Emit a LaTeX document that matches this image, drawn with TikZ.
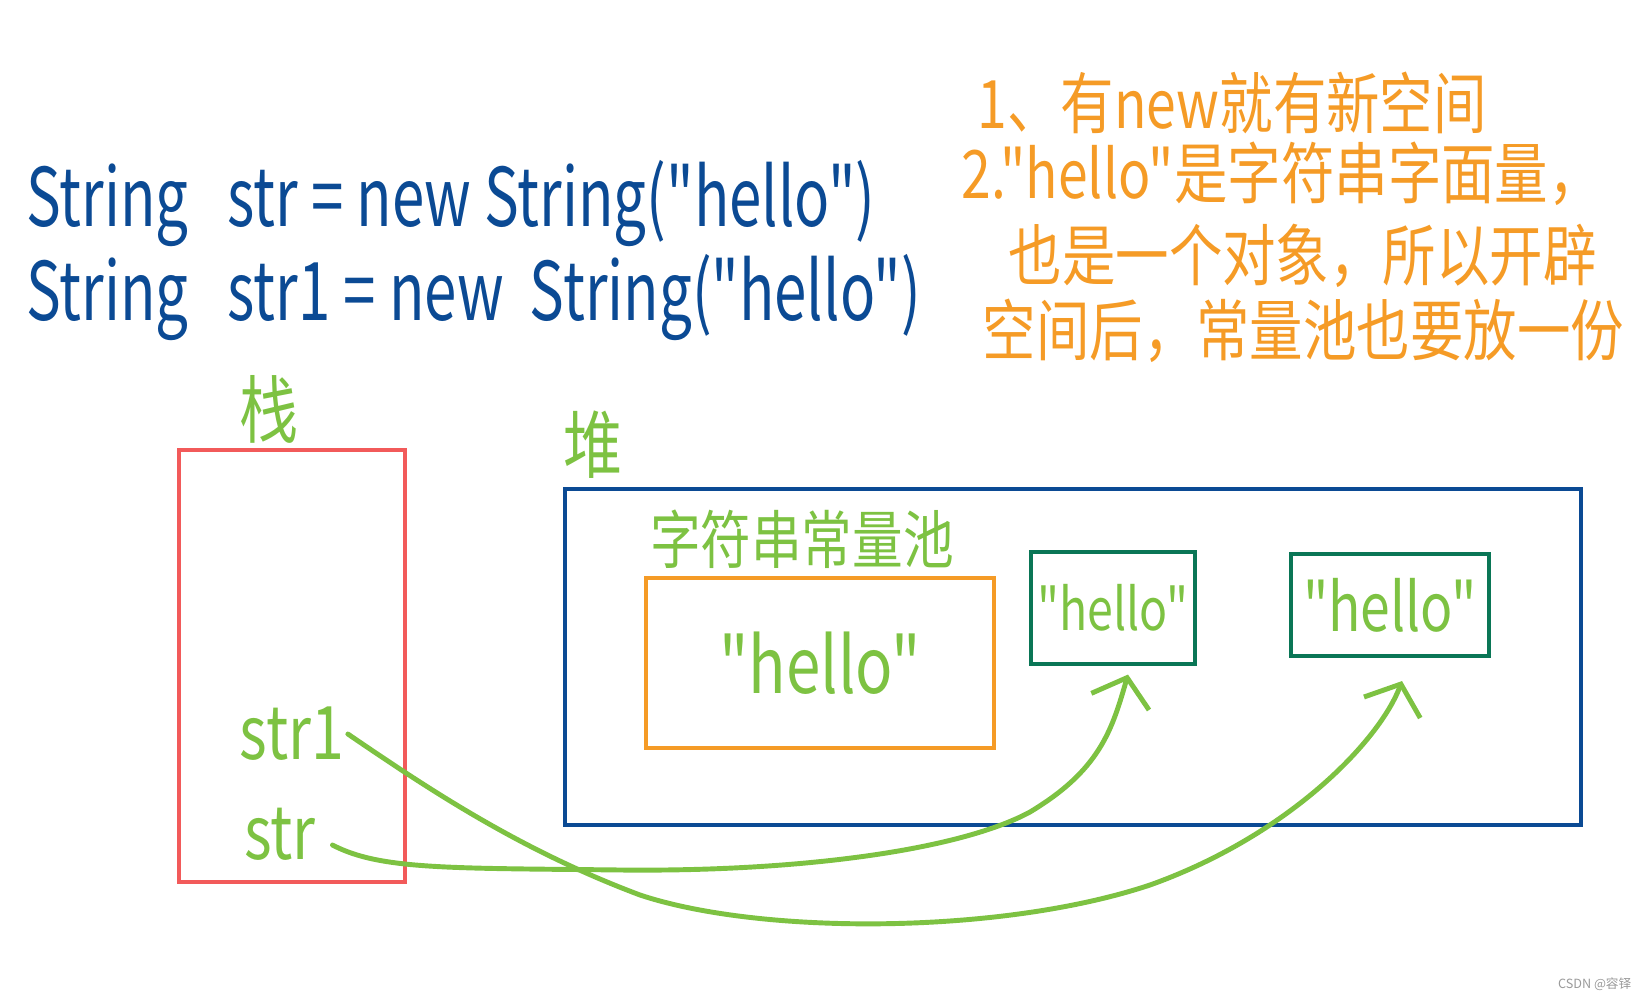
\documentclass[tikz,border=0pt]{standalone}
\usepackage{fontspec}
\setmainfont{Noto Sans CJK SC}
\newfontfamily\hand[FakeStretch=0.8]{Noto Sans CJK SC}
\newfontfamily\handcode[FakeStretch=0.72]{Noto Sans CJK SC}
\usetikzlibrary{arrows.meta,positioning}
\definecolor{stackred}{HTML}{F25A5A}
\definecolor{heapblue}{HTML}{0B4A94}
\definecolor{handgreen}{HTML}{7DC242}
\definecolor{objgreen}{HTML}{0A7656}
\definecolor{noteorange}{HTML}{F59B26}
\definecolor{markgray}{HTML}{9A9A9A}
\tikzset{
  membox/.style={draw, line width=1.15pt, inner sep=0pt},
  objbox/.style={membox, draw=objgreen, text=handgreen},
  codetext/.style={anchor=base west, inner sep=0pt, text=heapblue,
    font=\handcode\fontsize{23}{26}\selectfont},
  notetext/.style={anchor=base west, inner sep=0pt, text=noteorange,
    font=\hand\fontsize{19}{22}\selectfont},
  labeltext/.style={inner sep=0pt, text=handgreen},
  refarr/.style={-{Straight Barb[length=0.25cm, width=0.6cm]}, line width=1.4pt,
    draw=handgreen, line cap=round, line join=round}
}
\begin{document}
\begin{tikzpicture}[x=0.01cm, y=-0.01cm]
  \useasboundingbox (0,0) rectangle (1647,1000);
  % code
  \node[codetext] (line1) at (26,226) {String\ \ \ str = new String("hello")};
  \node[codetext] (line2) at (26,320) {String\ \ \ str1 = new \ String("hello")};
  % notes
  \node[notetext] (note1) at (977,128) {1、有new就有新空间};
  \node[notetext] (note2) at (961,198) {2."hello"是字符串字面量，};
  \node[notetext] (note3) at (1008,281) {也是一个对象，所以开辟};
  \node[notetext] (note4) at (982,355) {空间后，常量池也要放一份};
  % stack and heap
  \node[membox, draw=stackred, minimum width=2.25cm, minimum height=4.31cm] (stack) at (292,666) {};
  \node[membox, draw=heapblue, minimum width=10.16cm, minimum height=3.36cm] (heap) at (1073,657) {};
  \node[labeltext, font=\hand\fontsize{21}{24}\selectfont, above=0.04cm of stack.north, xshift=-0.23cm] (stacklbl) {栈};
  \node[labeltext, font=\hand\fontsize{21}{24}\selectfont, above=0.08cm of heap.north west, xshift=0.3cm] (heaplbl) {堆};
  \node[membox, draw=noteorange, text=handgreen, minimum width=3.48cm, minimum height=1.69cm,
    font=\hand\fontsize{22}{25}\selectfont] (pool) at (820,663) {"hello"};
  \node[labeltext, font=\hand\fontsize{18}{21}\selectfont, above=0.07cm of pool.north, xshift=-0.18cm] (poollbl) {字符串常量池};
  \node[objbox, minimum width=1.64cm, minimum height=1.11cm,
    font=\hand\fontsize{16.5}{20}\selectfont] (obj1) at (1113,608) {"hello"};
  \node[objbox, minimum width=1.97cm, minimum height=1.02cm,
    font=\hand\fontsize{19}{22}\selectfont] (obj2) at (1390,605) {"hello"};
  % references
  \node[labeltext, font=\hand\fontsize{21}{24}\selectfont] (str1) at (292,734) {str1};
  \node[labeltext, font=\hand\fontsize{21}{24}\selectfont] (str) at (280,834) {str};
  \coordinate (tip1) at ([xshift=0.15cm, yshift=-0.09cm]obj1.south);
  \coordinate (tip2) at ([xshift=0.12cm, yshift=-0.23cm]obj2.south);
  \draw[refarr] ([xshift=0.16cm, yshift=-0.11cm]str.east)
    .. controls (380,870) and (450,868) .. (620,870)
    .. controls (800,872) and (960,850) .. (1030,812)
    .. controls (1100,770) and (1112,730) .. (tip1);
  \draw[refarr] ([xshift=0.03cm]str1.east)
    .. controls (430,790) and (520,850) .. (640,895)
    .. controls (760,935) and (1000,935) .. (1150,885)
    .. controls (1290,835) and (1380,740) .. (tip2);
  % watermark
  \node[anchor=east, inner sep=0pt, text=markgray, font=\fontsize{3.6}{4}\selectfont] (mark) at (1632,984) {CSDN @容铎};
\end{tikzpicture}
\end{document}
